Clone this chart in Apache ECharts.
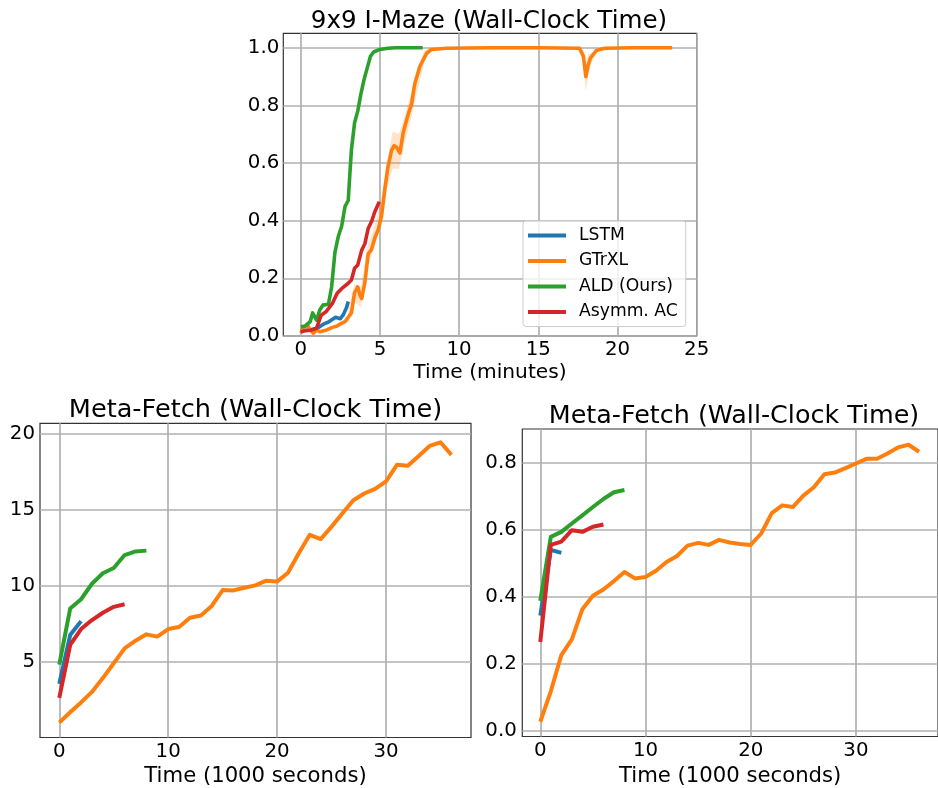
<!DOCTYPE html>
<html>
<head>
<meta charset="utf-8">
<script src="https://cdn.jsdelivr.net/npm/echarts@6/dist/echarts.min.js"></script>
<style>
html,body{margin:0;padding:0;background:#fff;}
#c{width:938px;height:788px;}
</style>
</head>
<body>
<div id="c"></div>
<script>
// ---------- Top: 9x9 I-Maze (minutes vs success) ----------
const seriesNames = ['LSTM', 'GTrXL', 'ALD (Ours)', 'Asymm. AC'];
const colors = ['#1f77b4', '#ff7f0e', '#2ca02c', '#d62728'];

const mazeLstmT = [0, 0.5, 1.0, 1.4, 1.8, 2.2, 2.5, 2.7, 2.9, 3.0];
const mazeLstmV = [0.02, 0.02, 0.025, 0.04, 0.05, 0.065, 0.06, 0.075, 0.1, 0.12];

const mazeGtrxlT = [0, 0.2, 0.4, 0.6, 0.8, 1.0, 1.2, 1.6, 2.0, 2.3, 2.6, 2.8, 3.0, 3.2, 3.4, 3.6, 3.75, 3.85, 4.05, 4.26, 4.47, 4.68, 4.9, 5.1, 5.3, 5.5, 5.74, 5.9, 6.05, 6.26, 6.47, 6.79, 7.0, 7.2, 7.52, 7.94, 8.26, 9.2, 12, 15, 17.6, 17.85, 18.0, 18.15, 18.3, 18.66, 19.2, 21, 23.45];
const mazeGtrxlV = [0.01, 0.03, 0.04, 0.02, 0.01, 0.02, 0.015, 0.02, 0.03, 0.035, 0.045, 0.05, 0.065, 0.08, 0.15, 0.17, 0.14, 0.13, 0.185, 0.285, 0.3, 0.34, 0.37, 0.415, 0.505, 0.585, 0.645, 0.66, 0.655, 0.635, 0.705, 0.77, 0.805, 0.875, 0.935, 0.98, 0.994, 0.998, 1.0, 1.0, 0.998, 0.97, 0.9, 0.94, 0.965, 0.99, 0.998, 1.0, 1.0];

const mazeGtrxlBandT  = [3.0, 3.4, 3.8, 4.2, 4.6, 5.0, 5.4, 5.8, 6.2, 6.6, 7.0, 7.4, 7.8, 8.2, 8.6, 17.6, 17.85, 18.0, 18.15, 18.35, 18.7, 19.0];
const mazeGtrxlBandLo = [0.04, 0.12, 0.10, 0.24, 0.30, 0.37, 0.50, 0.58, 0.58, 0.68, 0.76, 0.86, 0.95, 0.99, 0.995, 0.995, 0.93, 0.85, 0.90, 0.95, 0.985, 0.995];
const mazeGtrxlBandHi = [0.09, 0.18, 0.17, 0.31, 0.37, 0.45, 0.58, 0.71, 0.70, 0.77, 0.85, 0.93, 0.99, 1.0, 1.0, 1.0, 0.99, 0.94, 0.98, 0.98, 0.995, 1.0];

const mazeAldT = [0, 0.3, 0.6, 0.75, 1.0, 1.2, 1.4, 1.75, 1.95, 2.16, 2.37, 2.58, 2.8, 3.0, 3.1, 3.2, 3.4, 3.6, 3.8, 4.0, 4.2, 4.4, 4.6, 5.0, 5.5, 6.0, 7.7];
const mazeAldV = [0.032, 0.035, 0.05, 0.08, 0.055, 0.09, 0.107, 0.11, 0.17, 0.29, 0.345, 0.38, 0.45, 0.47, 0.56, 0.645, 0.74, 0.78, 0.84, 0.89, 0.93, 0.97, 0.985, 0.994, 0.998, 1.0, 1.0];

const mazeAsymT = [0, 0.3, 0.6, 1.0, 1.3, 1.6, 2.0, 2.3, 2.6, 3.0, 3.2, 3.4, 3.6, 3.85, 4.05, 4.26, 4.47, 4.68, 4.96];
const mazeAsymV = [0.015, 0.018, 0.02, 0.027, 0.073, 0.084, 0.113, 0.148, 0.165, 0.183, 0.194, 0.235, 0.246, 0.298, 0.32, 0.373, 0.397, 0.431, 0.466];

const mazeXTicks = [0, 5, 10, 15, 20, 25];
const mazeYTicks = [0, 0.2, 0.4, 0.6, 0.8, 1.0];

// ---------- Bottom-left: Meta-Fetch (return) ----------
const fetchGtrxlT = [0,1,2,3,4,5,6,7,8,9,10,11,12,13,14,15,16,17,18,19,20,21,22,23,24,25,26,27,28,29,30,31,32,33,34,35,36];
const fetchAGtrxlV = [1.02, 1.7, 2.35, 3.04, 3.95, 4.93, 5.91, 6.41, 6.83, 6.68, 7.18, 7.31, 7.92, 8.07, 8.7, 9.74, 9.72, 9.9, 10.05, 10.36, 10.3, 10.88, 12.18, 13.38, 13.1, 13.92, 14.8, 15.66, 16.1, 16.4, 16.9, 17.99, 17.92, 18.57, 19.23, 19.47, 18.64];
const fetchShortT = [0,1,2,3,4,5,6,7,8];
const fetchAAldV = [4.83, 8.53, 9.14, 10.16, 10.85, 11.2, 12.05, 12.29, 12.34];
const fetchAAsymV = [2.65, 6.13, 7.18, 7.77, 8.25, 8.64, 8.81];
const fetchALstmV = [3.57, 6.78, 7.7];
const fetchAXTicks = [0, 10, 20, 30];
const fetchAYTicks = [5, 10, 15, 20];

// ---------- Bottom-right: Meta-Fetch (success) ----------
const fetchBGtrxlV = [0.026, 0.117, 0.225, 0.272, 0.362, 0.402, 0.421, 0.446, 0.473, 0.454, 0.458, 0.477, 0.503, 0.521, 0.552, 0.56, 0.554, 0.569, 0.561, 0.557, 0.554, 0.588, 0.649, 0.672, 0.667, 0.701, 0.726, 0.765, 0.77, 0.783, 0.797, 0.811, 0.811, 0.827, 0.845, 0.853, 0.832];
const fetchBAldV = [0.387, 0.578, 0.593, 0.618, 0.642, 0.667, 0.691, 0.711, 0.718];
const fetchBAsymV = [0.264, 0.554, 0.564, 0.598, 0.593, 0.608, 0.615];
const fetchBLstmV = [0.343, 0.539, 0.53];
const fetchBXTicks = [0, 10, 20, 30];
const fetchBYTicks = [0, 0.2, 0.4, 0.6, 0.8];

// ---------- helpers ----------
function zip(xs, ys) { return ys.map((y, i) => [xs[i], y]); }
const FONT = 'DejaVu Sans';
const gridLine = { show: true, lineStyle: { color: '#b0b0b0', width: 1.7 } };

function xAxis(gridIndex, min, max, ticks, name, fmt, nameSize, nameGap) {
  return {
    type: 'value', gridIndex, min, max,
    axisLine: { show: false }, axisTick: { show: false, customValues: ticks },
    axisLabel: { customValues: ticks, fontSize: 19.8, color: '#000', margin: 4, fontFamily: FONT, formatter: fmt },
    splitLine: gridLine,
    name, nameLocation: 'middle', nameGap,
    nameTextStyle: { fontSize: nameSize, color: '#000', fontFamily: FONT }
  };
}
function yAxis(gridIndex, min, max, ticks, fmt, margin) {
  return {
    type: 'value', gridIndex, min, max,
    axisLine: { show: false }, axisTick: { show: false, customValues: ticks },
    axisLabel: { customValues: ticks, fontSize: 19.8, color: '#000', margin, fontFamily: FONT, formatter: fmt },
    splitLine: gridLine
  };
}
function line(name, data, idx, width, colorIdx) {
  return {
    type: 'line', name, data, xAxisIndex: idx, yAxisIndex: idx,
    showSymbol: false, symbol: 'none', animation: false, z: 3,
    lineStyle: { width, color: colors[colorIdx], cap: 'butt', join: 'round' },
    itemStyle: { color: colors[colorIdx] }
  };
}
const f1 = v => v.toFixed(1);
const f0 = v => String(Math.round(v));

const bandData = mazeGtrxlBandT.map((t, i) => [t, mazeGtrxlBandLo[i], mazeGtrxlBandHi[i]]);

const option = {
  animation: false,
  backgroundColor: '#fff',
  textStyle: { fontFamily: FONT },
  title: [
    { text: '9x9 I-Maze (Wall-Clock Time)', left: 489, top: 9, textAlign: 'center', padding: 0,
      textStyle: { fontSize: 24.6, fontWeight: 'normal', color: '#000', fontFamily: FONT } },
    { text: 'Meta-Fetch (Wall-Clock Time)', left: 255.5, top: 397, textAlign: 'center', padding: 0,
      textStyle: { fontSize: 25.6, fontWeight: 'normal', color: '#000', fontFamily: FONT } },
    { text: 'Meta-Fetch (Wall-Clock Time)', left: 734, top: 404, textAlign: 'center', padding: 0,
      textStyle: { fontSize: 25.4, fontWeight: 'normal', color: '#000', fontFamily: FONT } }
  ],
  legend: {
    data: seriesNames, orient: 'vertical', left: 523, top: 221,
    icon: 'rect', itemWidth: 38, itemHeight: 4, itemGap: 8.5,
    padding: [6, 8, 6, 5],
    borderColor: '#cccccc', borderWidth: 1, borderRadius: 3,
    backgroundColor: 'rgba(255,255,255,0.8)',
    textStyle: { fontSize: 17.2, color: '#000', fontFamily: FONT, padding: [0, 0, 0, 8] }
  },
  grid: [
    { left: 283.3, top: 33.3, width: 413.4, height: 302.7, show: true, borderColor: '#333', borderWidth: 1.2, backgroundColor: 'transparent' },
    { left: 40, top: 423.3, width: 431, height: 316.7, show: true, borderColor: '#333', borderWidth: 1.2, backgroundColor: 'transparent' },
    { left: 522.3, top: 429, width: 425.5, height: 311.7, show: true, borderColor: '#333', borderWidth: 1.2, backgroundColor: 'transparent' }
  ],
  xAxis: [
    xAxis(0, -1.1, 25, mazeXTicks, 'Time (minutes)', f0, 20.2, 27),
    xAxis(1, -1.77, 37.8, fetchAXTicks, 'Time (1000 seconds)', f0, 21.2, 28.5),
    xAxis(2, -1.71, 37.8, fetchBXTicks, 'Time (1000 seconds)', f0, 21.2, 29.5)
  ],
  yAxis: [
    yAxis(0, 0, 1.05, mazeYTicks, f1, 4),
    yAxis(1, 0.04, 20.72, fetchAYTicks, f0, 5),
    yAxis(2, -0.018, 0.9, fetchBYTicks, f1, 5.5)
  ],
  series: [
    {
      type: 'custom', name: 'GTrXL band', xAxisIndex: 0, yAxisIndex: 0, z: 2, silent: true,
      data: bandData, encode: { x: 0, y: [1, 2] },
      renderItem: function (params, api) {
        if (params.dataIndex !== 0) return null;
        const pts = [];
        for (let i = 0; i < mazeGtrxlBandT.length; i++) pts.push(api.coord([mazeGtrxlBandT[i], mazeGtrxlBandHi[i]]));
        for (let i = mazeGtrxlBandT.length - 1; i >= 0; i--) pts.push(api.coord([mazeGtrxlBandT[i], mazeGtrxlBandLo[i]]));
        return { type: 'polygon', shape: { points: pts }, style: { fill: 'rgba(255,127,14,0.22)' } };
      }
    },
    line('LSTM', zip(mazeLstmT, mazeLstmV), 0, 3.6, 0),
    line('GTrXL', zip(mazeGtrxlT, mazeGtrxlV), 0, 3.6, 1),
    line('ALD (Ours)', zip(mazeAldT, mazeAldV), 0, 3.6, 2),
    line('Asymm. AC', zip(mazeAsymT, mazeAsymV), 0, 3.6, 3),

    line('LSTM', zip(fetchShortT, fetchALstmV), 1, 4, 0),
    line('GTrXL', zip(fetchGtrxlT, fetchAGtrxlV), 1, 4, 1),
    line('ALD (Ours)', zip(fetchShortT, fetchAAldV), 1, 4, 2),
    line('Asymm. AC', zip(fetchShortT, fetchAAsymV), 1, 4, 3),

    line('LSTM', zip(fetchShortT, fetchBLstmV), 2, 4, 0),
    line('GTrXL', zip(fetchGtrxlT, fetchBGtrxlV), 2, 4, 1),
    line('ALD (Ours)', zip(fetchShortT, fetchBAldV), 2, 4, 2),
    line('Asymm. AC', zip(fetchShortT, fetchBAsymV), 2, 4, 3)
  ]
};

const chart = echarts.init(document.getElementById('c'), null, { renderer: 'canvas' });
chart.setOption(option);
</script>
</body>
</html>
